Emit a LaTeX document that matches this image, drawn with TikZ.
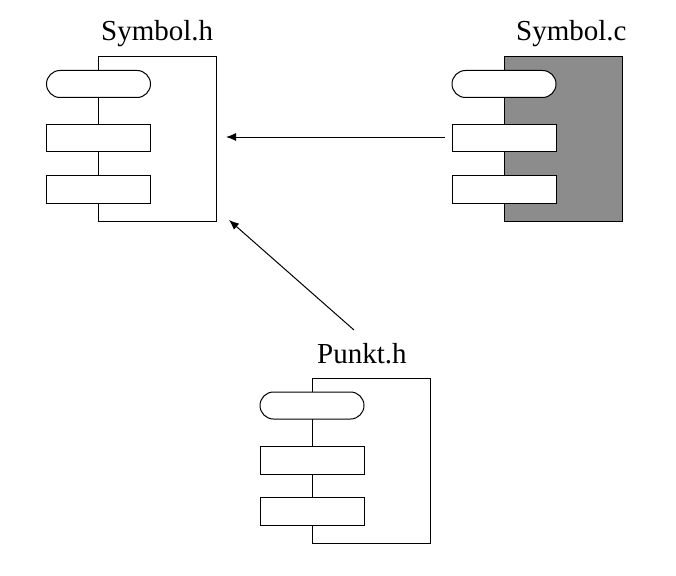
\documentclass[tikz,border=0pt]{standalone}
\usepackage{fontspec}
\setmainfont{Liberation Serif}
\usetikzlibrary{arrows.meta}
\definecolor{fillgray}{RGB}{140,140,140}
\begin{document}
\begin{tikzpicture}[x=1pt,y=-1pt,
  comp/.style={draw=black, line width=1pt, fill=white, inner sep=0pt, anchor=north west, minimum width=118pt, minimum height=165pt},
  pill/.style={draw=black, line width=1pt, fill=white, inner sep=0pt, anchor=north west, minimum width=104pt, minimum height=27pt, rounded corners=13.5pt},
  port/.style={draw=black, line width=1pt, fill=white, inner sep=0pt, anchor=north west, minimum width=104pt, minimum height=27.5pt},
  lbl/.style={anchor=base west, inner sep=0pt, font=\fontsize{29}{34}\selectfont},
  dep/.style={draw=black, line width=1pt, -{Latex[length=10pt,width=8pt]}}]
\useasboundingbox (0,0) rectangle (676,575);
% Symbol.h
\node[comp] (hbox) at (98,56) {};
\node[pill] (hpill) at (46,70) {};
\node[port] (hp1) at (46,123.5) {};
\node[port] (hp2) at (46,175) {};
\node[lbl] (hlbl) at (101,41) {Symbol.h};
% Symbol.c
\node[comp, fill=fillgray] (cbox) at (503.5,56) {};
\node[pill] (cpill) at (451.5,70) {};
\node[port] (cp1) at (451.5,123.5) {};
\node[port] (cp2) at (451.5,175) {};
\node[lbl] (clbl) at (516,41) {Symbol.c};
% Punkt.h
\node[comp] (pbox) at (311.5,377.5) {};
\node[pill] (ppill) at (259.5,391.5) {};
\node[port] (pp1) at (259.5,446) {};
\node[port] (pp2) at (259.5,497) {};
\node[lbl] (plbl) at (317,363) {Punkt.h};
% arrows
\coordinate (a1s) at (445,137);
\coordinate (a1e) at (226,137);
\coordinate (a2s) at (354,330);
\coordinate (a2e) at (229,220);
\draw[dep] (a1s) -- (a1e);
\draw[dep] (a2s) -- (a2e);
\end{tikzpicture}
\end{document}
